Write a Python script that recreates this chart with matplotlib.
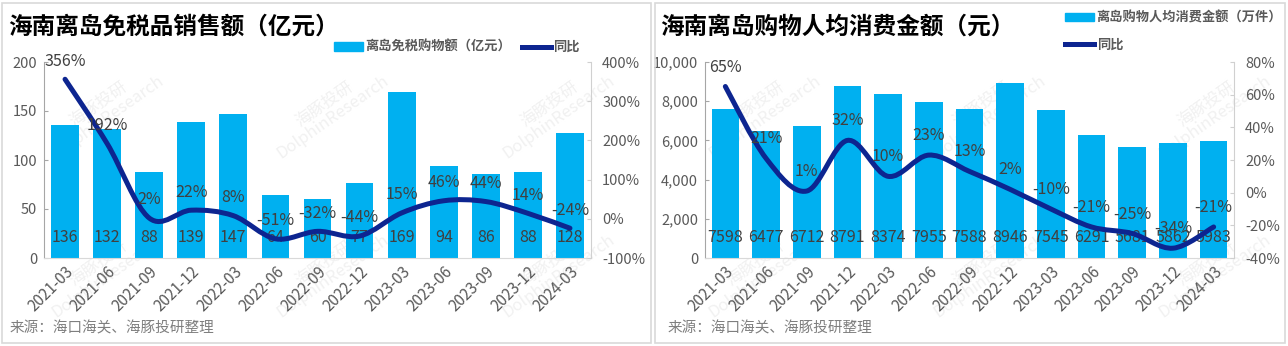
import matplotlib
matplotlib.use("Agg")
import matplotlib.pyplot as plt
from matplotlib.path import Path
from matplotlib.patches import PathPatch, Rectangle
from matplotlib.lines import Line2D
from matplotlib.ticker import FuncFormatter, MultipleLocator
import numpy as np

plt.rcParams['font.family'] = ['Noto Sans CJK SC', 'DejaVu Sans']

quarters = ['2021-03', '2021-06', '2021-09', '2021-12', '2022-03', '2022-06', '2022-09',
            '2022-12', '2023-03', '2023-06', '2023-09', '2023-12', '2024-03']

# 离岛免税购物额（亿元）与同比
sales = [136, 132, 88, 139, 147, 64, 60, 77, 169, 94, 86, 88, 128]
sales_yoy = [356, 192, 2, 22, 8, -51, -32, -44, 15, 46, 44, 14, -24]

# 人均消费金额（元）与同比
per_capita = [7598, 6477, 6712, 8791, 8374, 7955, 7588, 8946, 7545, 6291, 5681, 5862, 5983]
per_capita_yoy = [65, 21, 1, 32, 10, 23, 13, 2, -10, -21, -25, -34, -21]

BAR = '#00B0F0'
LINE = '#0D2590'
TXT = '#404040'
AXC = '#D0D0D0'


def smooth_path(xs, ys):
    # Catmull-Rom 转 Bezier，画平滑折线
    pts = np.column_stack([xs, ys]).astype(float)
    verts = [pts[0]]
    codes = [Path.MOVETO]
    n = len(pts)
    for i in range(n - 1):
        p0 = pts[max(i - 1, 0)]
        p1 = pts[i]
        p2 = pts[i + 1]
        p3 = pts[min(i + 2, n - 1)]
        c1 = p1 + (p2 - p0) / 6.0
        c2 = p2 - (p3 - p1) / 6.0
        verts += [c1, c2, p2]
        codes += [Path.CURVE4] * 3
    return Path(verts, codes)


def draw_panel(fig, rect, bars, yoy, ylim, ystep, rlim, rstep, ylabfmt, bar_w, lab_off):
    ax = fig.add_axes(rect)
    ax.set_facecolor('none')
    x = np.arange(len(quarters))
    ax.bar(x, bars, width=bar_w, color=BAR, zorder=2)
    ax.set_xlim(-0.5, len(quarters) - 0.5)
    ax.set_ylim(*ylim)
    ax.yaxis.set_major_locator(MultipleLocator(ystep))
    ax.yaxis.set_major_formatter(FuncFormatter(ylabfmt))
    ax.set_xticks(x)
    ax.set_xticklabels(quarters, rotation=45, ha='right', rotation_mode='anchor')
    for s in ['top', 'right']:
        ax.spines[s].set_visible(False)
    ax.spines['left'].set_color('#A6A6A6')
    ax.spines['bottom'].set_color('#D9D9D9')
    ax.tick_params(axis='y', direction='in', length=3, colors='#A6A6A6', labelcolor='#595959',
                   labelsize=10.5, pad=5)
    ax.tick_params(axis='x', length=0, labelcolor='#595959', labelsize=11, pad=4)
    for xi, v in zip(x, bars):
        ax.annotate(f'{v}', (xi, 0), xytext=(0, 15), textcoords='offset points',
                    ha='center', va='center', fontsize=11.5, color=TXT, zorder=5)

    ax2 = ax.twinx()
    ax2.set_facecolor('none')
    ax2.set_ylim(*rlim)
    ax2.yaxis.set_major_locator(MultipleLocator(rstep))
    ax2.yaxis.set_major_formatter(FuncFormatter(lambda v, p: f'{v:.0f}%'))
    for s in ['top', 'left', 'bottom']:
        ax2.spines[s].set_visible(False)
    ax2.spines['right'].set_color(AXC)
    ax2.tick_params(axis='y', direction='in', length=3, colors=AXC, labelcolor='#595959',
                    labelsize=10.5, pad=8)
    ax2.add_patch(PathPatch(smooth_path(x, yoy), facecolor='none', edgecolor=LINE,
                            lw=3.6, capstyle='round', zorder=4))
    for xi, v in zip(x, yoy):
        ax2.annotate(f'{v}%', (xi, v), xytext=(0, lab_off), textcoords='offset points',
                     ha='center', va='center', fontsize=11.5, color=TXT, zorder=5)
    return ax, ax2


fig = plt.figure(figsize=(12.88, 3.46), dpi=100)
fig.patch.set_facecolor('white')

# 两个面板的外框
fig.add_artist(Rectangle((2 / 1288, 3 / 346), 649 / 1288, 340 / 346, transform=fig.transFigure,
                         fill=False, edgecolor='#D9D9D9', lw=1.2))
fig.add_artist(Rectangle((655 / 1288, 3 / 346), 630 / 1288, 340 / 346, transform=fig.transFigure,
                         fill=False, edgecolor='#D9D9D9', lw=1.2))

# 水印（放在坐标轴之下）
for cx0, cx1 in [(0.05, 0.40), (0.56, 0.91)]:
    for fx in np.linspace(cx0, cx1, 3):
        for fy in [0.68, 0.22]:
            fig.text(fx + 0.03, fy, '海豚投研\nDolphinResearch', rotation=35, fontsize=12,
                     color='#F1F1F1', ha='center', va='center', zorder=-5,
                     fontstyle='italic', linespacing=0.9)

left_ax, left_ax2 = draw_panel(
    fig, [44 / 1288, 1 - 258 / 346, 547 / 1288, 196 / 346],
    sales, sales_yoy, (0, 200), 50, (-100, 400), 100,
    lambda v, p: f'{v:.0f}', 0.66, 13)

right_ax, right_ax2 = draw_panel(
    fig, [705 / 1288, 1 - 258 / 346, 529 / 1288, 196 / 346],
    per_capita, per_capita_yoy, (0, 10000), 2000, (-40, 80), 20,
    lambda v, p: f'{v:,.0f}', 0.68, 14)

fig.text(8 / 1288, 1 - 27 / 346, '海南离岛免税品销售额（亿元）', fontsize=17, fontweight='bold',
         color='black', va='center', ha='left')
fig.text(660 / 1288, 1 - 27 / 346, '海南离岛购物人均消费金额（元）', fontsize=17, fontweight='bold',
         color='black', va='center', ha='left')

fig.text(10 / 1288, 1 - 328 / 346, '来源：海口海关、海豚投研整理', fontsize=10.5, color='#7F7F7F',
         va='center')
fig.text(668 / 1288, 1 - 328 / 346, '来源：海口海关、海豚投研整理', fontsize=10.5, color='#7F7F7F',
         va='center')

leg_font = {'size': 9.5, 'weight': 'bold'}
h_bar1 = Rectangle((0, 0), 1, 1, color=BAR)
h_line = Line2D([0], [0], color=LINE, lw=3.6)
fig.legend([h_bar1, h_line], ['离岛免税购物额（亿元）', '同比'], ncol=2, frameon=False,
           loc='center left', bbox_to_anchor=(322 / 1288, 1 - 47 / 346), prop=leg_font,
           handlelength=2.2, handleheight=0.6, handletextpad=0.2, columnspacing=0.8,
           labelcolor='#595959')
fig.legend([h_bar1, h_line], ['离岛购物人均消费金额（万件）', '同比'], ncol=1, frameon=False,
           loc='center left', bbox_to_anchor=(1053 / 1288, 1 - 31 / 346), prop=leg_font,
           handlelength=2.2, handleheight=0.6, handletextpad=0.2, labelspacing=1.0,
           labelcolor='#595959')

fig.savefig('out.png', dpi=100)
